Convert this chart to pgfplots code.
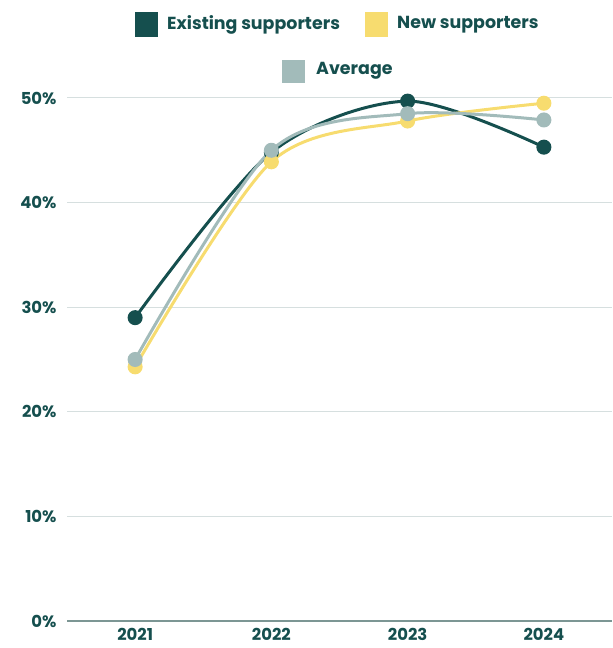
\documentclass[border=0pt]{standalone}
\usepackage{pgfplots}
\pgfplotsset{compat=1.18}
\usepackage{fontspec}
\setmainfont{Poppins}
\definecolor{darkteal}{HTML}{154F4E}
\definecolor{newyellow}{HTML}{F7DC6F}
\definecolor{avggray}{HTML}{A2BBBA}
\definecolor{gridc}{HTML}{D6DFDF}
\definecolor{basec}{HTML}{7C9694}
\begin{document}
\begin{tikzpicture}
\begin{axis}[
  scale only axis,
  width=545bp, height=523bp,
  xmin=-0.5, xmax=3.5,
  ymin=0, ymax=50,
  clip=false,
  axis line style={draw=none},
  xtick={0,1,2,3},
  xticklabels={2021,2022,2023,2024},
  ytick={10,20,30,40,50},
  yticklabels={10\%,20\%,30\%,40\%,50\%},
  extra y ticks={0},
  extra y tick labels={0\%},
  extra y tick style={grid style={color=basec, line width=1.3pt}},
  major tick length=0pt,
  ymajorgrids,
  grid style={color=gridc, line width=1pt},
  tick label style={font=\fontsize{16.5}{19}\selectfont\bfseries, text=darkteal},
  yticklabel style={xshift=-7bp},
  xticklabel style={yshift=-4bp},
]
\addplot[darkteal, line width=3bp, smooth, mark=*, mark size=6bp, mark options={solid}]
  coordinates {(0,29.0) (1,44.8) (2,49.7) (3,45.3)};
\addplot[newyellow, line width=3bp, smooth, mark=*, mark size=6bp, mark options={solid}]
  coordinates {(0,24.3) (1,43.9) (2,47.8) (3,49.5)};
\addplot[avggray, line width=3bp, smooth, mark=*, mark size=6bp, mark options={solid}]
  coordinates {(0,25.0) (1,45.0) (2,48.5) (3,47.9)};
\end{axis}
% legend
\begin{scope}[shift={(current axis.north west)}, x=1bp, y=1bp,
  every node/.style={font=\fontsize{17.5}{20}\selectfont\bfseries, text=darkteal, anchor=west, inner sep=0pt}]
  \fill[darkteal] (68,61) rectangle (91,86);
  \node at (100,73) {Existing supporters};
  \fill[newyellow] (298,61) rectangle (321,86);
  \node at (330,73) {New supporters};
  \fill[avggray] (215,15) rectangle (238,38);
  \node at (249,27) {Average};
\end{scope}
\pgfresetboundingbox
\path[use as bounding box] ([xshift=-67bp,yshift=-27bp]current axis.south west) rectangle ([yshift=98bp]current axis.north east);
\end{tikzpicture}
\end{document}
